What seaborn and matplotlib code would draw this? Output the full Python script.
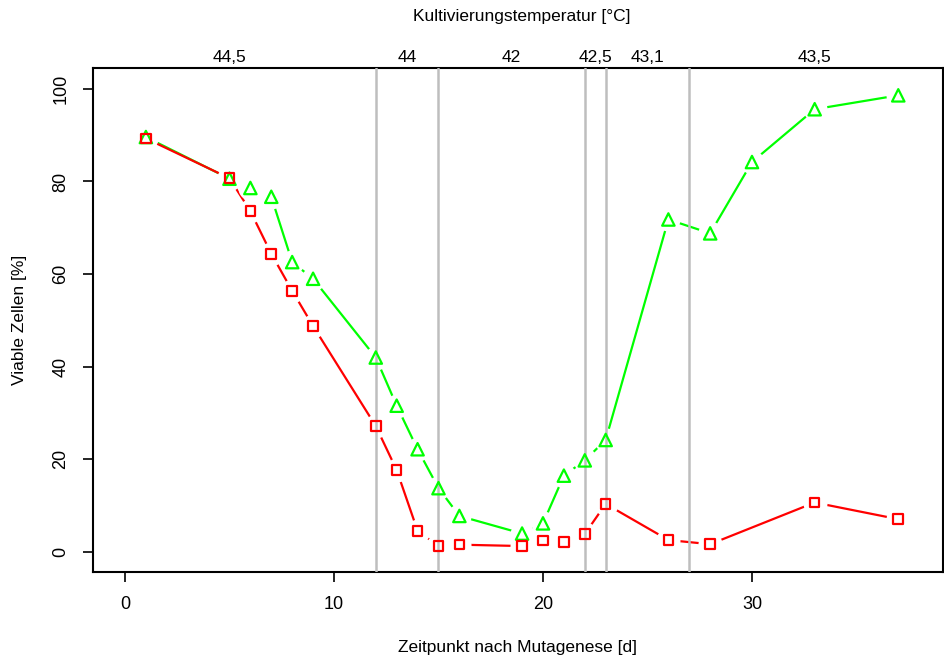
import matplotlib
matplotlib.use("Agg")
import matplotlib.pyplot as plt
import matplotlib.transforms as mtransforms
import numpy as np
import pandas as pd
import seaborn as sns

# days after mutagenesis
days_green = [1, 5, 6, 7, 8, 9, 12, 13, 14, 15, 16, 19, 20, 21, 22, 23, 26, 28, 30, 33, 37]
viable_green = [89.6, 80.6, 78.6, 76.7, 62.6, 59.0, 42.0, 31.6, 22.2, 13.8, 7.8, 4.0, 6.2,
                16.5, 19.8, 24.2, 71.8, 68.8, 84.2, 95.6, 98.6]

days_red = [1, 5, 6, 7, 8, 9, 12, 13, 14, 15, 16, 19, 20, 21, 22, 23, 26, 28, 33, 37]
viable_red = [89.3, 80.7, 73.6, 64.4, 56.4, 48.8, 27.2, 17.7, 4.6, 1.3, 1.6, 1.3, 2.5,
              2.2, 3.9, 10.4, 2.6, 1.7, 10.7, 7.1]

# temperature change points and labels
temp_breaks = [12, 15, 22, 23, 27]
temp_label_pos = [5, 13.5, 18.5, 22.5, 25, 33]
temp_labels = ["44,5", "44", "42", "42,5", "43,1", "43,5"]

sns.set_style("ticks")
plt.rcParams["font.family"] = ["Liberation Sans", "DejaVu Sans"]
plt.rcParams["text.color"] = "black"
plt.rcParams["axes.labelcolor"] = "black"

green = "#00FF00"
red = "#FF0000"

df_g = pd.DataFrame({"d": days_green, "v": viable_green})
df_r = pd.DataFrame({"d": days_red, "v": viable_red})

fig = plt.figure(figsize=(9.44, 6.59), dpi=100)
ax = fig.add_axes([93 / 944, 1 - 572 / 659, 850 / 944, 504 / 659])

# lines
sns.lineplot(data=df_g, x="d", y="v", color=green, lw=1.6, ax=ax, zorder=2, sort=False)
sns.lineplot(data=df_r, x="d", y="v", color=red, lw=1.6, ax=ax, zorder=2, sort=False)

# white masks -> gaps around points like R type="b"
for df in (df_g, df_r):
    sns.scatterplot(data=df, x="d", y="v", color="white", s=300, linewidth=0,
                    marker="o", ax=ax, zorder=3)

for xb in temp_breaks:
    ax.axvline(xb, color="#BEBEBE", lw=1.8, zorder=3.5)

sns.scatterplot(data=df_g, x="d", y="v", marker="^", s=80, facecolor="none",
                edgecolor=green, linewidth=1.6, ax=ax, zorder=4)
sns.scatterplot(data=df_r, x="d", y="v", marker="s", s=48, facecolor="none",
                edgecolor=red, linewidth=1.6, ax=ax, zorder=4)

ax.set_xlim(-1.53, 39.14)
ax.set_ylim(-4.3, 104.5)
ax.set_xticks([0, 10, 20, 30])
ax.set_yticks([0, 20, 40, 60, 80, 100])
ax.tick_params(direction="out", length=7, width=1.2, pad=10, labelsize=13,
               colors="black", labelcolor="black")
for lab in ax.get_yticklabels():
    lab.set_rotation(90)
    lab.set_va("center")
for sp in ax.spines.values():
    sp.set_visible(True)
    sp.set_linewidth(1.5)
    sp.set_color("black")

ax.set_xlabel("Zeitpunkt nach Mutagenese [d]", fontsize=12.5, labelpad=20)
ax.set_ylabel("Viable Zellen [%]", fontsize=12.5, labelpad=18)

trans = mtransforms.blended_transform_factory(ax.transData, ax.transAxes)
for xp, lab in zip(temp_label_pos, temp_labels):
    ax.text(xp, 1.006, lab, transform=trans, ha="center", va="bottom", fontsize=12.5)

fig.text(522 / 944, 1 - 16 / 659, "Kultivierungstemperatur [°C]", ha="center",
         va="center", fontsize=12.5)

fig.savefig("out.png", dpi=100)
